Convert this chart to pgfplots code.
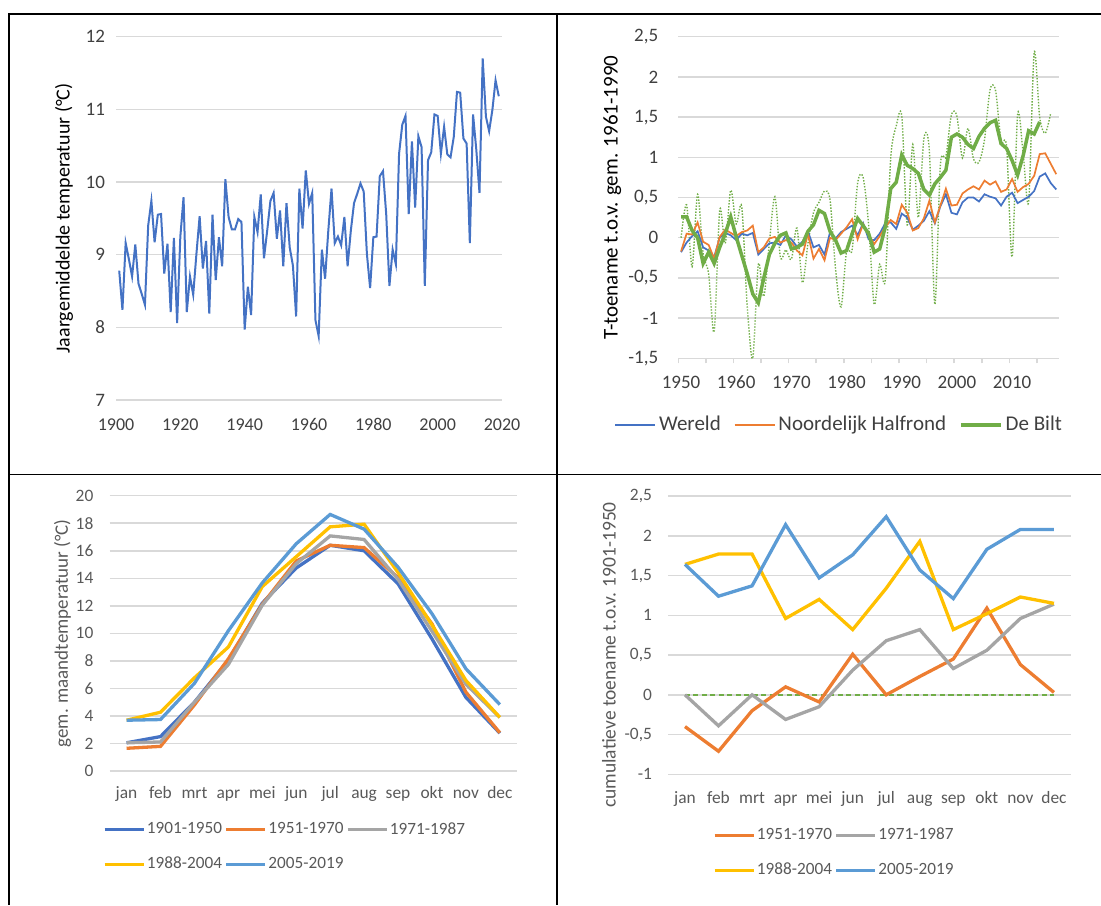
\documentclass[border=0pt]{standalone}
\usepackage{fontspec}
\setmainfont{Carlito}
\usepackage{pgfplots}
\pgfplotsset{compat=1.18}
\usepackage{pgfplotstable}

\definecolor{gridgray}{HTML}{D9D9D9}
\definecolor{txtdark}{HTML}{404040}
\definecolor{txtgray}{HTML}{595959}
\definecolor{xlblue}{HTML}{4472C4}
\definecolor{xlorange}{HTML}{ED7D31}
\definecolor{xlgray}{HTML}{A5A5A5}
\definecolor{xlgold}{HTML}{FFC000}
\definecolor{xllblue}{HTML}{5B9BD5}
\definecolor{xlgreen}{HTML}{70AD47}

% De Bilt, jaargemiddelde temperatuur
\pgfplotstableread{
year T
1901 8.78
1902 8.24
1903 9.16
1904 8.94
1905 8.70
1906 9.14
1907 8.60
1908 8.46
1909 8.31
1910 9.40
1911 9.74
1912 9.17
1913 9.55
1914 9.56
1915 8.74
1916 9.15
1917 8.21
1918 9.23
1919 8.06
1920 9.25
1921 9.79
1922 8.21
1923 8.70
1924 8.45
1925 9.01
1926 9.53
1927 8.81
1928 9.19
1929 8.19
1930 9.55
1931 8.65
1932 9.24
1933 8.84
1934 10.04
1935 9.52
1936 9.35
1937 9.35
1938 9.49
1939 9.45
1940 7.97
1941 8.56
1942 8.17
1943 9.52
1944 9.31
1945 9.83
1946 8.95
1947 9.33
1948 9.74
1949 9.85
1950 9.22
1951 9.61
1952 8.84
1953 9.71
1954 9.10
1955 8.85
1956 8.15
1957 9.91
1958 9.36
1959 10.16
1960 9.70
1961 9.85
1962 8.10
1963 7.88
1964 9.07
1965 8.67
1966 9.33
1967 9.91
1968 9.16
1969 9.25
1970 9.13
1971 9.52
1972 8.84
1973 9.33
1974 9.71
1975 9.84
1976 9.98
1977 9.87
1978 9.01
1979 8.54
1980 9.24
1981 9.25
1982 10.08
1983 10.15
1984 9.56
1985 8.57
1986 9.07
1987 8.87
1988 10.39
1989 10.79
1990 10.91
1991 9.56
1992 10.56
1993 9.65
1994 10.63
1995 10.48
1996 8.57
1997 10.30
1998 10.41
1999 10.93
2000 10.91
2001 10.39
2002 10.76
2003 10.38
2004 10.34
2005 10.62
2006 11.24
2007 11.23
2008 10.60
2009 10.53
2010 9.16
2011 10.93
2012 10.45
2013 9.85
2014 11.70
2015 10.90
2016 10.70
2017 10.99
2018 11.40
2019 11.18
}\jaartemp

% anomalies t.o.v. 1961-1990: wereld en noordelijk halfrond
\pgfplotstableread{
year W NH
1950 -0.18 -0.17
1951 -0.06 0.05
1952 0.02 0.04
1953 0.08 0.19
1954 -0.12 -0.05
1955 -0.16 -0.09
1956 -0.24 -0.26
1957 0.00 0.01
1958 0.06 0.10
1959 0.03 0.06
1960 -0.03 0.02
1961 0.05 0.07
1962 0.03 0.09
1963 0.06 0.15
1964 -0.21 -0.18
1965 -0.14 -0.12
1966 -0.07 -0.01
1967 -0.06 0.01
1968 -0.09 -0.06
1969 0.03 -0.03
1970 -0.02 -0.06
1971 -0.11 -0.16
1972 -0.05 -0.22
1973 0.08 0.05
1974 -0.12 -0.26
1975 -0.09 -0.14
1976 -0.21 -0.28
1977 0.07 0.00
1978 -0.01 -0.03
1979 0.07 0.05
1980 0.11 0.13
1981 0.15 0.23
1982 0.03 -0.02
1983 0.18 0.17
1984 -0.02 0.04
1985 -0.03 -0.08
1986 0.05 0.02
1987 0.18 0.13
1988 0.19 0.22
1989 0.11 0.17
1990 0.30 0.41
1991 0.25 0.31
1992 0.10 0.09
1993 0.15 0.12
1994 0.21 0.24
1995 0.33 0.46
1996 0.18 0.19
1997 0.39 0.40
1998 0.54 0.61
1999 0.31 0.40
2000 0.29 0.41
2001 0.44 0.55
2002 0.50 0.60
2003 0.50 0.64
2004 0.45 0.60
2005 0.54 0.71
2006 0.51 0.66
2007 0.49 0.70
2008 0.40 0.57
2009 0.51 0.60
2010 0.56 0.73
2011 0.43 0.57
2012 0.47 0.63
2013 0.51 0.67
2014 0.58 0.77
2015 0.76 1.04
2016 0.80 1.05
2017 0.68 0.92
2018 0.60 0.79
}\wereldnh

% De Bilt: gemiddelde (dik) en jaarwaarde (gestippeld)
\pgfplotstableread{
year G
1950 0.26
1951 0.26
1952 0.09
1953 0.00
1954 -0.32
1955 -0.18
1956 -0.32
1957 -0.12
1958 0.05
1959 0.26
1960 0.01
1961 -0.22
1962 -0.45
1963 -0.70
1964 -0.81
1965 -0.50
1966 -0.21
1967 -0.07
1968 0.03
1969 0.06
1970 -0.14
1971 -0.12
1972 -0.08
1973 0.08
1974 0.16
1975 0.34
1976 0.30
1977 0.08
1978 -0.03
1979 -0.19
1980 -0.16
1981 0.05
1982 0.24
1983 0.15
1984 0.05
1985 -0.18
1986 -0.14
1987 0.13
1988 0.61
1989 0.69
1990 1.03
1991 0.90
1992 0.86
1993 0.80
1994 0.60
1995 0.53
1996 0.67
1997 0.75
1998 0.84
1999 1.25
2000 1.29
2001 1.25
2002 1.16
2003 1.11
2004 1.26
2005 1.36
2006 1.43
2007 1.46
2008 1.17
2009 1.11
2010 0.96
2011 0.78
2012 1.02
2013 1.33
2014 1.29
2015 1.44
}\debiltgem

\pgfplotstableread{
year D
1950 0.00
1951 0.41
1952 -0.36
1953 0.54
1954 -0.20
1955 -0.45
1956 -1.17
1957 0.34
1958 -0.07
1959 0.59
1960 0.17
1961 0.38
1962 -0.86
1963 -1.50
1964 -0.33
1965 -0.73
1966 -0.07
1967 0.51
1968 -0.24
1969 -0.15
1970 -0.27
1971 0.12
1972 -0.56
1973 -0.07
1974 0.31
1975 0.44
1976 0.58
1977 0.47
1978 -0.39
1979 -0.86
1980 -0.16
1981 -0.15
1982 0.68
1983 0.75
1984 0.16
1985 -0.83
1986 -0.33
1987 -0.53
1988 0.99
1989 1.39
1990 1.51
1991 0.16
1992 1.16
1993 0.25
1994 1.23
1995 1.08
1996 -0.83
1997 0.90
1998 1.01
1999 1.53
2000 1.51
2001 0.99
2002 1.36
2003 0.98
2004 0.94
2005 1.22
2006 1.84
2007 1.83
2008 1.20
2009 1.13
2010 -0.24
2011 1.53
2012 1.05
2013 0.45
2014 2.30
2015 1.50
2016 1.30
2017 1.55
}\debiltjaar

% gemiddelde maandtemperatuur per periode
\pgfplotstableread{
m  p1    p2    p3    p4    p5
0  2.05  1.65  2.05  3.69  3.69
1  2.50  1.79  2.11  4.27  3.74
2  5.00  4.80  5.00  6.77  6.37
3  8.05  8.15  7.74  9.01  10.19
4  12.20 12.11 12.05 13.40 13.67
5  14.75 15.26 15.06 15.57 16.51
6  16.40 16.40 17.08 17.74 18.64
7  16.00 16.23 16.82 17.93 17.57
8  13.60 14.05 13.93 14.42 14.81
9  9.60  10.69 10.16 10.62 11.43
10 5.35  5.73  6.31  6.58  7.43
11 2.75  2.78  3.89  3.90  4.83
}\maandtemp

% toename t.o.v. 1901-1950
\pgfplotstableread{
m  z  d2    d3    d4    d5
0  0  -0.40 0.00  1.64  1.64
1  0  -0.71 -0.39 1.77  1.24
2  0  -0.20 0.00  1.77  1.37
3  0  0.10  -0.31 0.96  2.14
4  0  -0.09 -0.15 1.20  1.47
5  0  0.51  0.31  0.82  1.76
6  0  0.00  0.68  1.34  2.24
7  0  0.23  0.82  1.93  1.57
8  0  0.45  0.33  0.82  1.21
9  0  1.09  0.56  1.02  1.83
10 0  0.38  0.96  1.23  2.08
11 0  0.03  1.14  1.15  2.08
}\toename

\pgfplotsset{
  excel/.style={
    scale only axis,
    anchor=south west,
    axis line style={draw=none},
    ymajorgrids,
    grid style={line width=0.75pt, draw=gridgray},
    major tick length=0pt,
    legend cell align=left,
  },
}

\begin{document}
\begin{tikzpicture}
\useasboundingbox (0pt,0pt) rectangle (550.5pt,-452.5pt);

% tabelranden
\draw[line width=1pt] (4.5pt,-7pt) -- (4.5pt,-452.5pt);
\draw[line width=1pt] (278.5pt,-7pt) -- (278.5pt,-452.5pt);
\draw[line width=0.75pt] (4pt,-7pt) -- (550.5pt,-7pt);
\draw[line width=0.75pt] (4pt,-237.25pt) -- (550.5pt,-237.25pt);

% linksboven: jaargemiddelde temperatuur De Bilt
\begin{axis}[excel,
  at={(58pt,-200pt)}, width=193pt, height=181.65pt,
  xmin=1900, xmax=2020, ymin=7, ymax=12,
  xtick={1900,1920,...,2020},
  xticklabels={1900,1920,1940,1960,1980,2000,2020},
  ytick={7,8,...,12}, yticklabels={7,8,9,10,11,12},
  ticklabel style={font=\fontsize{9}{11}\selectfont, text=txtdark},
  xticklabel style={anchor=base, yshift=-15pt},
  yticklabel style={xshift=-2pt, font=\fontsize{9.5}{11}\selectfont},
  ylabel={Jaargemiddelde temperatuur (°C)},
  ylabel style={at={(axis description cs:-0.1347,0.5)}, anchor=center,
    font=\fontsize{10}{12}\selectfont, text=black},
]
\addplot[xlblue, line width=1pt, no marks] table[x=year, y=T] {\jaartemp};
\end{axis}

% rechtsboven: temperatuurtoename t.o.v. 1961-1990
\begin{axis}[excel,
  at={(339.15pt,-179.15pt)}, width=190.35pt, height=160.8pt,
  xmin=1949.5, xmax=2018.5, ymin=-1.5, ymax=2.5,
  xtick={1950,1960,...,2010},
  xticklabels={1950,1960,1970,1980,1990,2000,2010},
  minor xtick={1949.5,1954.5,...,2014.5},
  tick align=outside, minor tick length=2.5pt, xtick pos=bottom, ytick pos=left,
  minor x tick style={draw=gridgray, line width=0.75pt},
  ytick={-1.5,-1,...,2.5},
  yticklabels={{-1,5},-1,{-0,5},0,{0,5},1,{1,5},2,{2,5}},
  ticklabel style={font=\fontsize{9.5}{11}\selectfont, text=txtdark},
  xticklabel style={anchor=base, yshift=-15pt},
  yticklabel style={xshift=-6.5pt},
  ylabel={T-toename t.o.v. gem. 1961-1990},
  ylabel style={at={(axis description cs:-0.173,0.5)}, anchor=center,
    font=\fontsize{10.5}{12}\selectfont, text=black},
  legend columns=3,
  legend image code/.code={\draw[#1] (0pt,0pt) -- (20pt,0pt);},
  legend style={draw=none, fill=none, at={(axis description cs:-0.169,-0.2074)},
    anchor=west, font=\fontsize{10.5}{12}\selectfont, text=txtdark,
    inner sep=0pt, nodes={inner sep=1.5pt},
    /tikz/every even column/.append style={column sep=5pt}},
]
\addplot[xlgreen, line width=0.7pt, dash pattern=on 0.7pt off 0.8pt,
  smooth, tension=0.5, no marks, forget plot] table[x=year, y=D] {\debiltjaar};
\addplot[xlblue, line width=0.85pt, no marks] table[x=year, y=W] {\wereldnh};
\addlegendentry{Wereld}
\addplot[xlorange, line width=0.85pt, no marks] table[x=year, y=NH] {\wereldnh};
\addlegendentry{Noordelijk Halfrond}
\addplot[xlgreen, line width=1.75pt, no marks] table[x=year, y=G] {\debiltgem};
\addlegendentry{De Bilt}
\end{axis}

% linksonder: gemiddelde maandtemperatuur
\begin{axis}[excel,
  at={(54.8pt,-385.5pt)}, width=203.6pt, height=137.65pt,
  xmin=-0.5, xmax=11.5, ymin=0, ymax=20,
  xtick={0,...,11},
  xticklabels={jan,feb,mrt,apr,mei,jun,jul,aug,sep,okt,nov,dec},
  ytick={0,2,...,20}, yticklabels={0,2,4,6,8,10,12,14,16,18,20},
  ticklabel style={font=\fontsize{8.7}{10}\selectfont, text=txtgray},
  xticklabel style={anchor=base, yshift=-13.65pt},
  yticklabel style={xshift=-4.6pt},
  ylabel={gem. maandtemperatuur (°C)},
  ylabel style={at={(axis description cs:-0.1157,0.5)}, anchor=center,
    font=\fontsize{9.5}{11}\selectfont, text=txtgray},
  legend columns=3,
  legend image code/.code={\draw[#1] (0pt,0pt) -- (19.6pt,0pt);},
  legend style={draw=none, fill=none, at={(axis description cs:-0.0175,-0.276)},
    anchor=west, font=\fontsize{8.6}{10}\selectfont, text=txtgray,
    inner sep=0pt, nodes={inner sep=0.8pt}, row sep=8.4pt,
    /tikz/every even column/.append style={column sep=0.4pt}},
]
\addplot[xlblue, line width=1.65pt, no marks] table[x=m, y=p1] {\maandtemp};
\addlegendentry{1901-1950}
\addplot[xlorange, line width=1.65pt, no marks] table[x=m, y=p2] {\maandtemp};
\addlegendentry{1951-1970}
\addplot[xlgray, line width=1.65pt, no marks] table[x=m, y=p3] {\maandtemp};
\addlegendentry{1971-1987}
\addplot[xlgold, line width=1.65pt, no marks] table[x=m, y=p4] {\maandtemp};
\addlegendentry{1988-2004}
\addplot[xllblue, line width=1.65pt, no marks] table[x=m, y=p5] {\maandtemp};
\addlegendentry{2005-2019}
\end{axis}

% rechtsonder: cumulatieve toename t.o.v. 1901-1950
\begin{axis}[excel,
  at={(334.1pt,-387.15pt)}, width=201.25pt, height=139.15pt,
  xmin=-0.5, xmax=11.5, ymin=-1, ymax=2.5,
  xtick={0,...,11},
  xticklabels={jan,feb,mrt,apr,mei,jun,jul,aug,sep,okt,nov,dec},
  ytick={-1,-0.5,...,2.5},
  yticklabels={-1,{-0,5},0,{0,5},1,{1,5},2,{2,5}},
  ticklabel style={font=\fontsize{8.7}{10}\selectfont, text=txtgray},
  xticklabel style={anchor=base, yshift=-14.5pt},
  yticklabel style={xshift=-4.6pt},
  ylabel={cumulatieve toename t.o.v. 1901-1950},
  ylabel style={at={(axis description cs:-0.147,0.4287)}, anchor=center,
    font=\fontsize{9.75}{11}\selectfont, text=txtgray},
  legend columns=2,
  legend image code/.code={\draw[#1] (0pt,0pt) -- (19.6pt,0pt);},
  legend style={draw=none, fill=none, at={(axis description cs:0.110,-0.2824)},
    anchor=west, font=\fontsize{8.6}{10}\selectfont, text=txtgray,
    inner sep=0pt, nodes={inner sep=0.8pt}, row sep=8.4pt,
    /tikz/every even column/.append style={column sep=0.4pt}},
]
\addplot[xlgreen, line width=0.75pt, dash pattern=on 2.5pt off 1.75pt,
  no marks, forget plot] table[x=m, y=z] {\toename};
\addplot[xlorange, line width=1.65pt, no marks] table[x=m, y=d2] {\toename};
\addlegendentry{1951-1970}
\addplot[xlgray, line width=1.65pt, no marks] table[x=m, y=d3] {\toename};
\addlegendentry{1971-1987}
\addplot[xlgold, line width=1.65pt, no marks] table[x=m, y=d4] {\toename};
\addlegendentry{1988-2004}
\addplot[xllblue, line width=1.65pt, no marks] table[x=m, y=d5] {\toename};
\addlegendentry{2005-2019}
\end{axis}
\end{tikzpicture}
\end{document}
